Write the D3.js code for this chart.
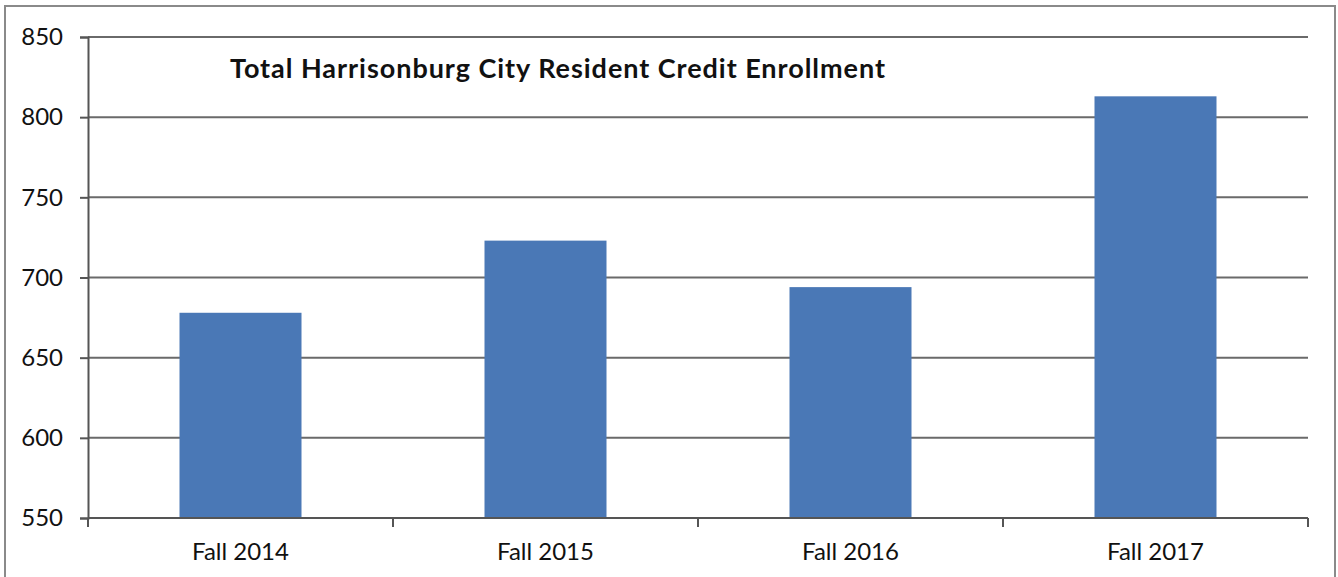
<!DOCTYPE html>
<html>
<head>
<meta charset="utf-8">
<script src="https://cdn.jsdelivr.net/npm/d3@7"></script>
<style>
  body { margin: 0; background: #fff; }
  text { font-family: Lato, "Open Sans", sans-serif; fill: #111; }
</style>
</head>
<body>
<div id="chart"></div>
<script>
// chart values
const categories = ["Fall 2014", "Fall 2015", "Fall 2016", "Fall 2017"];
const enrollment = [678, 723, 694, 813];
const yTicks = [550, 600, 650, 700, 750, 800, 850];
const title = "Total Harrisonburg City Resident Credit Enrollment";

const width = 1338, height = 577;
const margin = { top: 37, right: 30, bottom: 59, left: 88 };

const svg = d3.select("#chart")
    .append("svg")
    .attr("width", width)
    .attr("height", height);

// outer frame
svg.append("rect")
    .attr("x", 5).attr("y", 6)
    .attr("width", 1330).attr("height", 580)
    .attr("fill", "none")
    .attr("stroke", "#8a8a8a")
    .attr("stroke-width", 2);

const x = d3.scaleBand()
    .domain(categories)
    .range([margin.left, width - margin.right])
    .paddingInner(0.6)
    .paddingOuter(0.3);

const y = d3.scaleLinear()
    .domain([550, 850])
    .range([height - margin.bottom, margin.top]);

// gridlines
svg.append("g")
    .selectAll("line")
    .data(yTicks.slice(1))
    .enter()
    .append("line")
    .attr("x1", margin.left)
    .attr("x2", width - margin.right)
    .attr("y1", d => y(d))
    .attr("y2", d => y(d))
    .attr("stroke", "#6a6a6a")
    .attr("stroke-width", 2);

// bars
svg.append("g")
    .selectAll("rect")
    .data(categories)
    .enter()
    .append("rect")
    .attr("x", d => x(d))
    .attr("width", x.bandwidth())
    .attr("y", (d, i) => y(enrollment[i]))
    .attr("height", (d, i) => y(550) - y(enrollment[i]))
    .attr("fill", "#4a78b6");

// y axis
const yAxis = svg.append("g")
    .attr("transform", `translate(${margin.left},0)`)
    .call(d3.axisLeft(y).tickValues(yTicks).tickSize(8).tickPadding(17));
yAxis.select(".domain").attr("stroke", "#555").attr("stroke-width", 2);
yAxis.selectAll(".tick line").attr("stroke", "#555").attr("stroke-width", 2);
yAxis.selectAll(".tick text").style("font-size", "24px").attr("fill", "#111");

// x axis with ticks at band edges
const xAxisG = svg.append("g")
    .attr("transform", `translate(0,${y(550)})`);
xAxisG.append("line")
    .attr("x1", margin.left).attr("x2", width - margin.right)
    .attr("stroke", "#555").attr("stroke-width", 2);
const step = x.step();
const edges = d3.range(categories.length + 1).map(i => margin.left + i * step);
xAxisG.selectAll(".edge")
    .data(edges)
    .enter()
    .append("line")
    .attr("x1", d => d).attr("x2", d => d)
    .attr("y1", 0).attr("y2", 9)
    .attr("stroke", "#555").attr("stroke-width", 2);
xAxisG.selectAll(".lbl")
    .data(categories)
    .enter()
    .append("text")
    .attr("x", d => x(d) + x.bandwidth() / 2)
    .attr("y", 42)
    .attr("text-anchor", "middle")
    .style("font-size", "24px")
    .text(d => d);

// title
svg.append("text")
    .attr("x", 230)
    .attr("y", 78)
    .attr("textLength", 655)
    .attr("lengthAdjust", "spacing")
    .style("font-size", "27px")
    .style("font-weight", "bold")
    .text(title);
</script>
</body>
</html>
